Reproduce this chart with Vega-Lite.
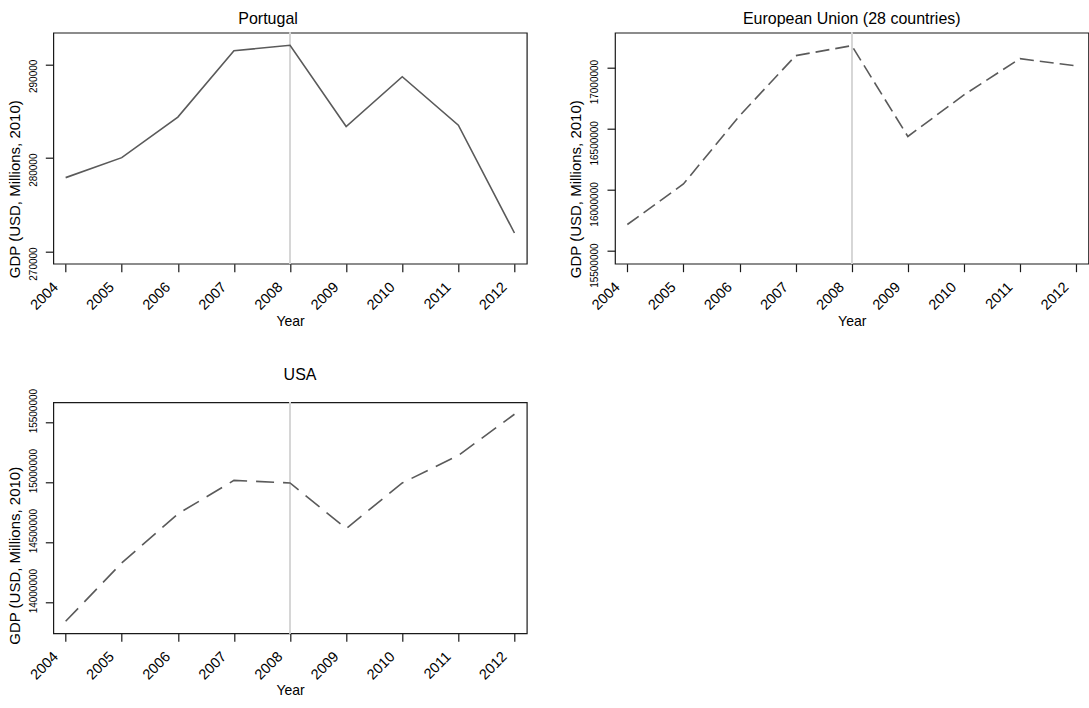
{
  "$schema": "https://vega.github.io/schema/vega-lite/v6.json",
  "padding": {"left": 6.3, "top": 9.7, "right": 0, "bottom": 0},
  "background": "white",
  "datasets": {
    "gdp": [
      {"country": "Portugal", "year": 2004, "gdp": 277930},
      {"country": "Portugal", "year": 2005, "gdp": 280060},
      {"country": "Portugal", "year": 2006, "gdp": 284380},
      {"country": "Portugal", "year": 2007, "gdp": 291450},
      {"country": "Portugal", "year": 2008, "gdp": 292030},
      {"country": "Portugal", "year": 2009, "gdp": 283370},
      {"country": "Portugal", "year": 2010, "gdp": 288680},
      {"country": "Portugal", "year": 2011, "gdp": 283520},
      {"country": "Portugal", "year": 2012, "gdp": 272030},
      {"country": "EU28", "year": 2004, "gdp": 15717700},
      {"country": "EU28", "year": 2005, "gdp": 16048900},
      {"country": "EU28", "year": 2006, "gdp": 16606000},
      {"country": "EU28", "year": 2007, "gdp": 17097800},
      {"country": "EU28", "year": 2008, "gdp": 17179400},
      {"country": "EU28", "year": 2009, "gdp": 16437200},
      {"country": "EU28", "year": 2010, "gdp": 16777200},
      {"country": "EU28", "year": 2011, "gdp": 17073400},
      {"country": "EU28", "year": 2012, "gdp": 17013900},
      {"country": "USA", "year": 2004, "gdp": 13844400},
      {"country": "USA", "year": 2005, "gdp": 14331100},
      {"country": "USA", "year": 2006, "gdp": 14739600},
      {"country": "USA", "year": 2007, "gdp": 15019100},
      {"country": "USA", "year": 2008, "gdp": 14997500},
      {"country": "USA", "year": 2009, "gdp": 14617300},
      {"country": "USA", "year": 2010, "gdp": 14997500},
      {"country": "USA", "year": 2011, "gdp": 15227100},
      {"country": "USA", "year": 2012, "gdp": 15569900}
    ]
  },
  "config": {
    "font": "Liberation Sans",
    "view": {"stroke": "#1a1a1a", "strokeWidth": 1.2},
    "title": {"fontSize": 16, "fontWeight": "normal", "color": "#000", "offset": 5},
    "axis": {
      "domain": false,
      "grid": false,
      "tickColor": "#1a1a1a",
      "tickWidth": 1.2,
      "tickSize": 8,
      "labelColor": "#000",
      "titleColor": "#000",
      "titleFontWeight": "normal"
    },
    "axisX": {"labelFontSize": 14.5, "labelAngle": -45, "labelAlign": "right", "labelBaseline": "middle",
              "labelOffset": -10, "labelPadding": 13, "titleFontSize": 14, "titlePadding": 2},
    "axisY": {"labelFontSize": 10, "labelAngle": -90, "labelPadding": 7, "titleFontSize": 15, "titleX": -31}
  },
  "columns": 2,
  "bounds": "flush",
  "spacing": {"row": 138.6, "column": 87.7},
  "concat": [
    {
      "title": {"text": "Portugal", "dx": -22},
      "width": 473.5,
      "height": 231,
      "data": {"name": "gdp"},
      "transform": [{"filter": "datum.country === 'Portugal'"}],
      "layer": [
        {
          "mark": {"type": "rule", "color": "#d6d6d6", "strokeWidth": 1.5},
          "encoding": {"x": {"datum": 2008, "type": "quantitative"}}
        },
        {
          "mark": {"type": "line", "color": "#5a5a5a", "strokeWidth": 1.6},
          "encoding": {
            "x": {"field": "year", "type": "quantitative",
                  "scale": {"domain": [2003.78, 2012.22], "nice": false, "zero": false},
                  "axis": {"values": [2004, 2005, 2006, 2007, 2008, 2009, 2010, 2011, 2012], "format": "d", "title": "Year"}},
            "y": {"field": "gdp", "type": "quantitative",
                  "scale": {"domain": [268760, 293370], "nice": false, "zero": false},
                  "axis": {"values": [270000, 280000, 290000], "format": "d", "labelOffset": 11.5,
                           "title": "GDP (USD, Millions, 2010)", "titleY": 156}}
          }
        }
      ]
    },
    {
      "title": "European Union (28 countries)",
      "width": 473.5,
      "height": 231,
      "data": {"name": "gdp"},
      "transform": [{"filter": "datum.country === 'EU28'"}],
      "layer": [
        {
          "mark": {"type": "rule", "color": "#d6d6d6", "strokeWidth": 1.5},
          "encoding": {"x": {"datum": 2008, "type": "quantitative"}}
        },
        {
          "mark": {"type": "line", "color": "#5a5a5a", "strokeWidth": 1.6, "strokeDash": [14, 6]},
          "encoding": {
            "x": {"field": "year", "type": "quantitative",
                  "scale": {"domain": [2003.78, 2012.22], "nice": false, "zero": false},
                  "axis": {"values": [2004, 2005, 2006, 2007, 2008, 2009, 2010, 2011, 2012], "format": "d", "title": "Year"}},
            "y": {"field": "gdp", "type": "quantitative",
                  "scale": {"domain": [15397300, 17285350], "nice": false, "zero": false},
                  "axis": {"values": [15500000, 16000000, 16500000, 17000000], "format": "d", "labelOffset": 14,
                           "title": "GDP (USD, Millions, 2010)", "titleY": 156}}
          }
        }
      ]
    },
    {
      "title": {"text": "USA", "dx": 10},
      "width": 473.5,
      "height": 231,
      "data": {"name": "gdp"},
      "transform": [{"filter": "datum.country === 'USA'"}],
      "layer": [
        {
          "mark": {"type": "rule", "color": "#d6d6d6", "strokeWidth": 1.5},
          "encoding": {"x": {"datum": 2008, "type": "quantitative"}}
        },
        {
          "mark": {"type": "line", "color": "#5a5a5a", "strokeWidth": 1.6, "strokeDash": [18, 9]},
          "encoding": {
            "x": {"field": "year", "type": "quantitative",
                  "scale": {"domain": [2003.78, 2012.22], "nice": false, "zero": false},
                  "axis": {"values": [2004, 2005, 2006, 2007, 2008, 2009, 2010, 2011, 2012], "format": "d", "title": "Year"}},
            "y": {"field": "gdp", "type": "quantitative",
                  "scale": {"domain": [13744600, 15669700], "nice": false, "zero": false},
                  "axis": {"values": [14000000, 14500000, 15000000, 15500000], "format": "d", "labelOffset": -12,
                           "title": "GDP (USD, Millions, 2010)", "titleY": 153}}
          }
        }
      ]
    }
  ]
}
